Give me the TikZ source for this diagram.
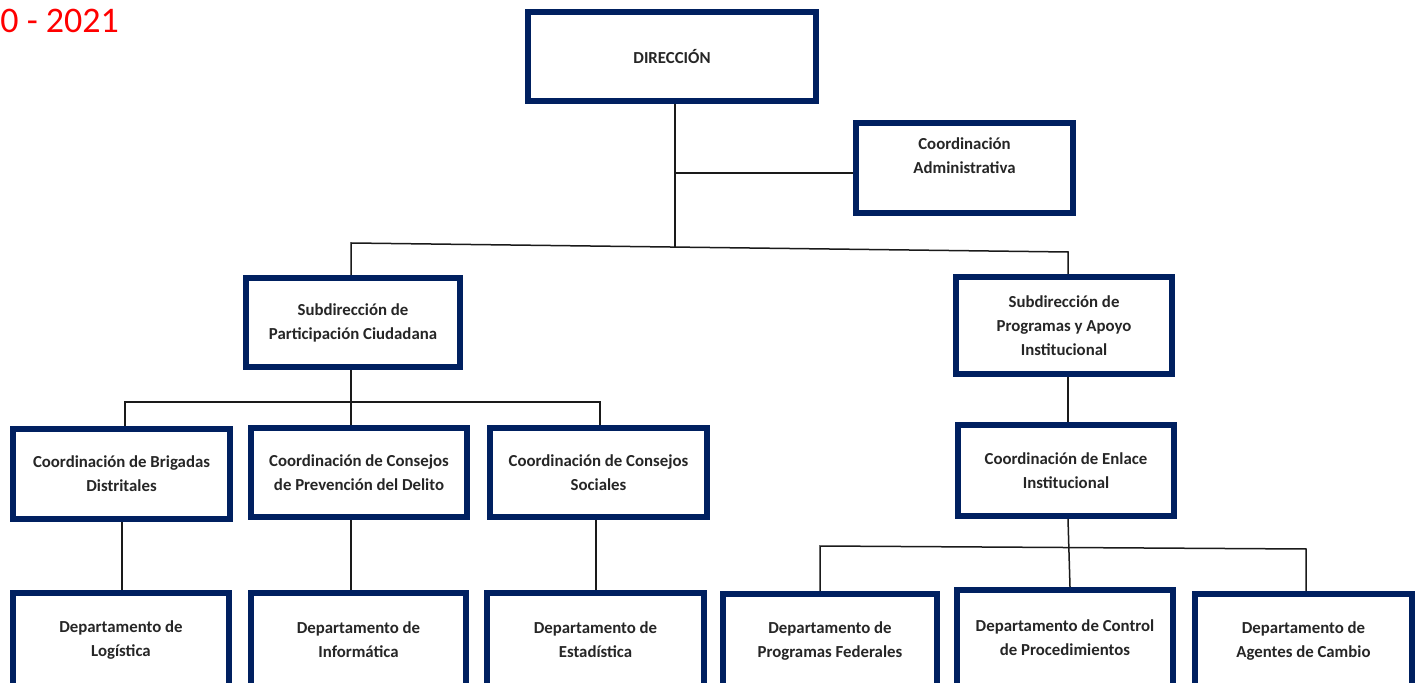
\documentclass[tikz,border=0pt]{standalone}
\usepackage{fontspec}
\setmainfont{Carlito}
\definecolor{navy}{HTML}{002060}
\definecolor{linec}{HTML}{1A1A1A}
\begin{document}
\begin{tikzpicture}[x=0.5pt,y=-0.5pt,
  box/.style={draw=navy, line width=3pt, fill=white, align=center, inner sep=0pt,
    font=\bfseries\fontsize{8.4}{12}\selectfont, text=black!85},
  conn/.style={draw=linec, line width=0.75pt}]
\useasboundingbox (0,0) rectangle (1423,683);
\clip (0,0) rectangle (1423,683);
\fill[white] (0,0) rectangle (1423,683);

\node[anchor=base west, inner sep=0pt, text=red, font=\fontsize{18}{20}\selectfont] (yr) at (0,33) {0 - 2021};

\node[box, minimum width=144pt, minimum height=44.5pt] (dir) at (672,56.5) {DIRECCIÓN};
\node[box, minimum width=108.5pt, minimum height=45pt] (ca) at (964.5,168) {Coordinación\\Administrativa\\~};
\node[box, minimum width=107pt, minimum height=44.5pt] (sp) at (353,322.5) {Subdirección de\\Participación Ciudadana};
\node[box, minimum width=108pt, minimum height=48.5pt] (spa) at (1064,325.5) {Subdirección de\\Programas y Apoyo\\Institucional};
\node[box, minimum width=108.5pt, minimum height=45pt] (cb) at (121.5,474) {Coordinación de Brigadas\\Distritales};
\node[box, minimum width=108pt, minimum height=44.5pt] (cp) at (359,472.5) {Coordinación de Consejos\\de Prevención del Delito};
\node[box, minimum width=108.5pt, minimum height=44.5pt] (cs) at (598.5,472.5) {Coordinación de Consejos\\Sociales};
\node[box, minimum width=108pt, minimum height=45.5pt] (ce) at (1066,470.5) {Coordinación de Enlace\\Institucional};

\node[box, minimum width=108pt, minimum height=47pt] (dl) at (121,640) {Departamento de\\Logística};
\node[box, minimum width=107.5pt, minimum height=47pt] (di) at (358.5,640) {Departamento de\\Informática};
\node[box, minimum width=108.5pt, minimum height=47pt] (de) at (595.5,640) {Departamento de\\Estadística};
\node[box, minimum width=107pt, minimum height=47pt] (dpf) at (830,641) {Departamento de\\Programas Federales};
\node[box, minimum width=108pt, minimum height=48pt] (dcp) at (1065,638) {Departamento de Control\\de Procedimientos};
\node[box, minimum width=108.5pt, minimum height=47pt] (dac) at (1303.5,641) {Departamento de\\Agentes de Cambio};

% level 1 bus
\coordinate (b1) at (351,243);
\coordinate (b2) at (1068,252);
\coordinate (bj) at (675,247);
\draw[conn] (dir.south -| bj) -- (bj);
\draw[conn] (bj |- 0,173) -- (ca.west |- 0,173);
\draw[conn] (b1 |- sp.north) -- (b1) -- (b2) -- (b2 |- spa.north);

% level 2 left bus
\coordinate (c1) at (125,402);
\coordinate (c2) at (351,402);
\coordinate (c3) at (600,402);
\draw[conn] (sp.south -| c2) -- (c2);
\draw[conn] (c1 |- cb.north) -- (c1) -- (c3) -- (c3 |- cs.north);
\draw[conn] (c2) -- (c2 |- cp.north);

% level 3 left verticals
\coordinate (v1) at (122,0);
\coordinate (v3) at (596,0);
\draw[conn] (cb.south -| v1) -- (dl.north -| v1);
\draw[conn] (cp.south -| c2) -- (di.north -| c2);
\draw[conn] (cs.south -| v3) -- (de.north -| v3);

% right branch
\draw[conn] (spa.south -| b2) -- (ce.north -| b2);
\coordinate (e0) at (1068,519);
\coordinate (e1) at (1070,590);
\coordinate (d1) at (820,546);
\coordinate (d2) at (1306,549);
\draw[conn] (ce.south -| e0) -- (dcp.north -| e1);
\draw[conn] (d1 |- dpf.north) -- (d1) -- (d2) -- (d2 |- dac.north);
\end{tikzpicture}
\end{document}
